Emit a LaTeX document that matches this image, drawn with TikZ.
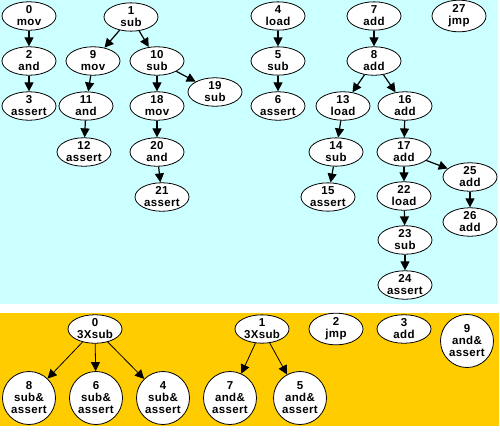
\documentclass[tikz,border=0pt]{standalone}
\usepackage{fontspec}
\setmainfont{Liberation Sans}[LetterSpace=3]
\usetikzlibrary{arrows.meta,shapes.geometric}
\definecolor{topbg}{RGB}{204,255,255}
\definecolor{botbg}{RGB}{255,204,0}
\begin{document}
\begin{tikzpicture}[x=1pt,y=-1pt,>={Triangle[length=9pt,width=9pt]},
    lbl/.style={font=\bfseries\fontsize{11.5}{12}\selectfont,align=center,inner sep=0pt},
    op/.style={lbl,ellipse,draw,line width=0.8pt,fill=white,minimum width=54pt,minimum height=28pt},
    grp/.style={lbl,circle,draw,line width=0.8pt,fill=white,minimum size=53pt}]
    \useasboundingbox (0,0) rectangle (500,432);
    \fill[topbg] (0,0) rectangle (498,304);
    \fill[botbg] (0,313) rectangle (499,426);
    % dependence graph
    \node[op] (t0) at (29,16) {0\\mov};
    \node[op] (t2) at (29,61) {2\\and};
    \node[op] (t3) at (29,106) {3\\assert};
    \node[op] (t1) at (131,17) {1\\sub};
    \node[op] (t9) at (93,61) {9\\mov};
    \node[op] (t10) at (157,61) {10\\sub};
    \node[op] (t19) at (215,92) {19\\sub};
    \node[op] (t11) at (86,106) {11\\and};
    \node[op] (t12) at (84,152) {12\\assert};
    \node[op] (t18) at (157,106) {18\\mov};
    \node[op] (t20) at (157,152) {20\\and};
    \node[op] (t21) at (162,197) {21\\assert};
    \node[op] (t4) at (278,16) {4\\load};
    \node[op] (t5) at (278,61) {5\\sub};
    \node[op] (t6) at (278,106) {6\\assert};
    \node[op] (t7) at (374,16) {7\\add};
    \node[op] (t27) at (459,16) {27\\jmp};
    \node[op] (t8) at (374,61) {8\\add};
    \node[op] (t13) at (343,106) {13\\load};
    \node[op] (t16) at (405,106) {16\\add};
    \node[op] (t14) at (336,152) {14\\sub};
    \node[op] (t15) at (328,197) {15\\assert};
    \node[op] (t17) at (404,152) {17\\add};
    \node[op] (t25) at (470,177) {25\\add};
    \node[op] (t26) at (470,222) {26\\add};
    \node[op] (t22) at (404,196) {22\\load};
    \node[op] (t23) at (405,240) {23\\sub};
    \node[op] (t24) at (405,285) {24\\assert};
    \foreach \a/\b in {t0/t2,t2/t3,t1/t9,t1/t10,t9/t11,t11/t12,t10/t18,t10/t19,
        t18/t20,t20/t21,t4/t5,t5/t6,t7/t8,t8/t13,t8/t16,t13/t14,t14/t15,
        t16/t17,t17/t22,t17/t25,t22/t23,t23/t24,t25/t26}
    {
        \draw[->,line width=1.2pt] (\a) -- (\b);
    }
    % grouped graph
    \node[op] (b0) at (95,329) {0\\3Xsub};
    \node[op] (b1) at (262,329) {1\\3Xsub};
    \node[op] (b2) at (336,329) {2\\jmp};
    \node[op] (b3) at (404,329) {3\\add};
    \node[grp] (b9) at (467,341) {9\\and\&\\assert};
    \node[grp] (b8) at (29,398) {8\\sub\&\\assert};
    \node[grp] (b6) at (96,398) {6\\sub\&\\assert};
    \node[grp] (b4) at (163,398) {4\\sub\&\\assert};
    \node[grp] (b7) at (230,398) {7\\and\&\\assert};
    \node[grp] (b5) at (300,398) {5\\and\&\\assert};
    \foreach \a/\b in {b0/b8,b0/b6,b0/b4,b1/b7,b1/b5}
    {
        \draw[->,line width=0.8pt] (\a) -- (\b);
    }
\end{tikzpicture}
\end{document}
